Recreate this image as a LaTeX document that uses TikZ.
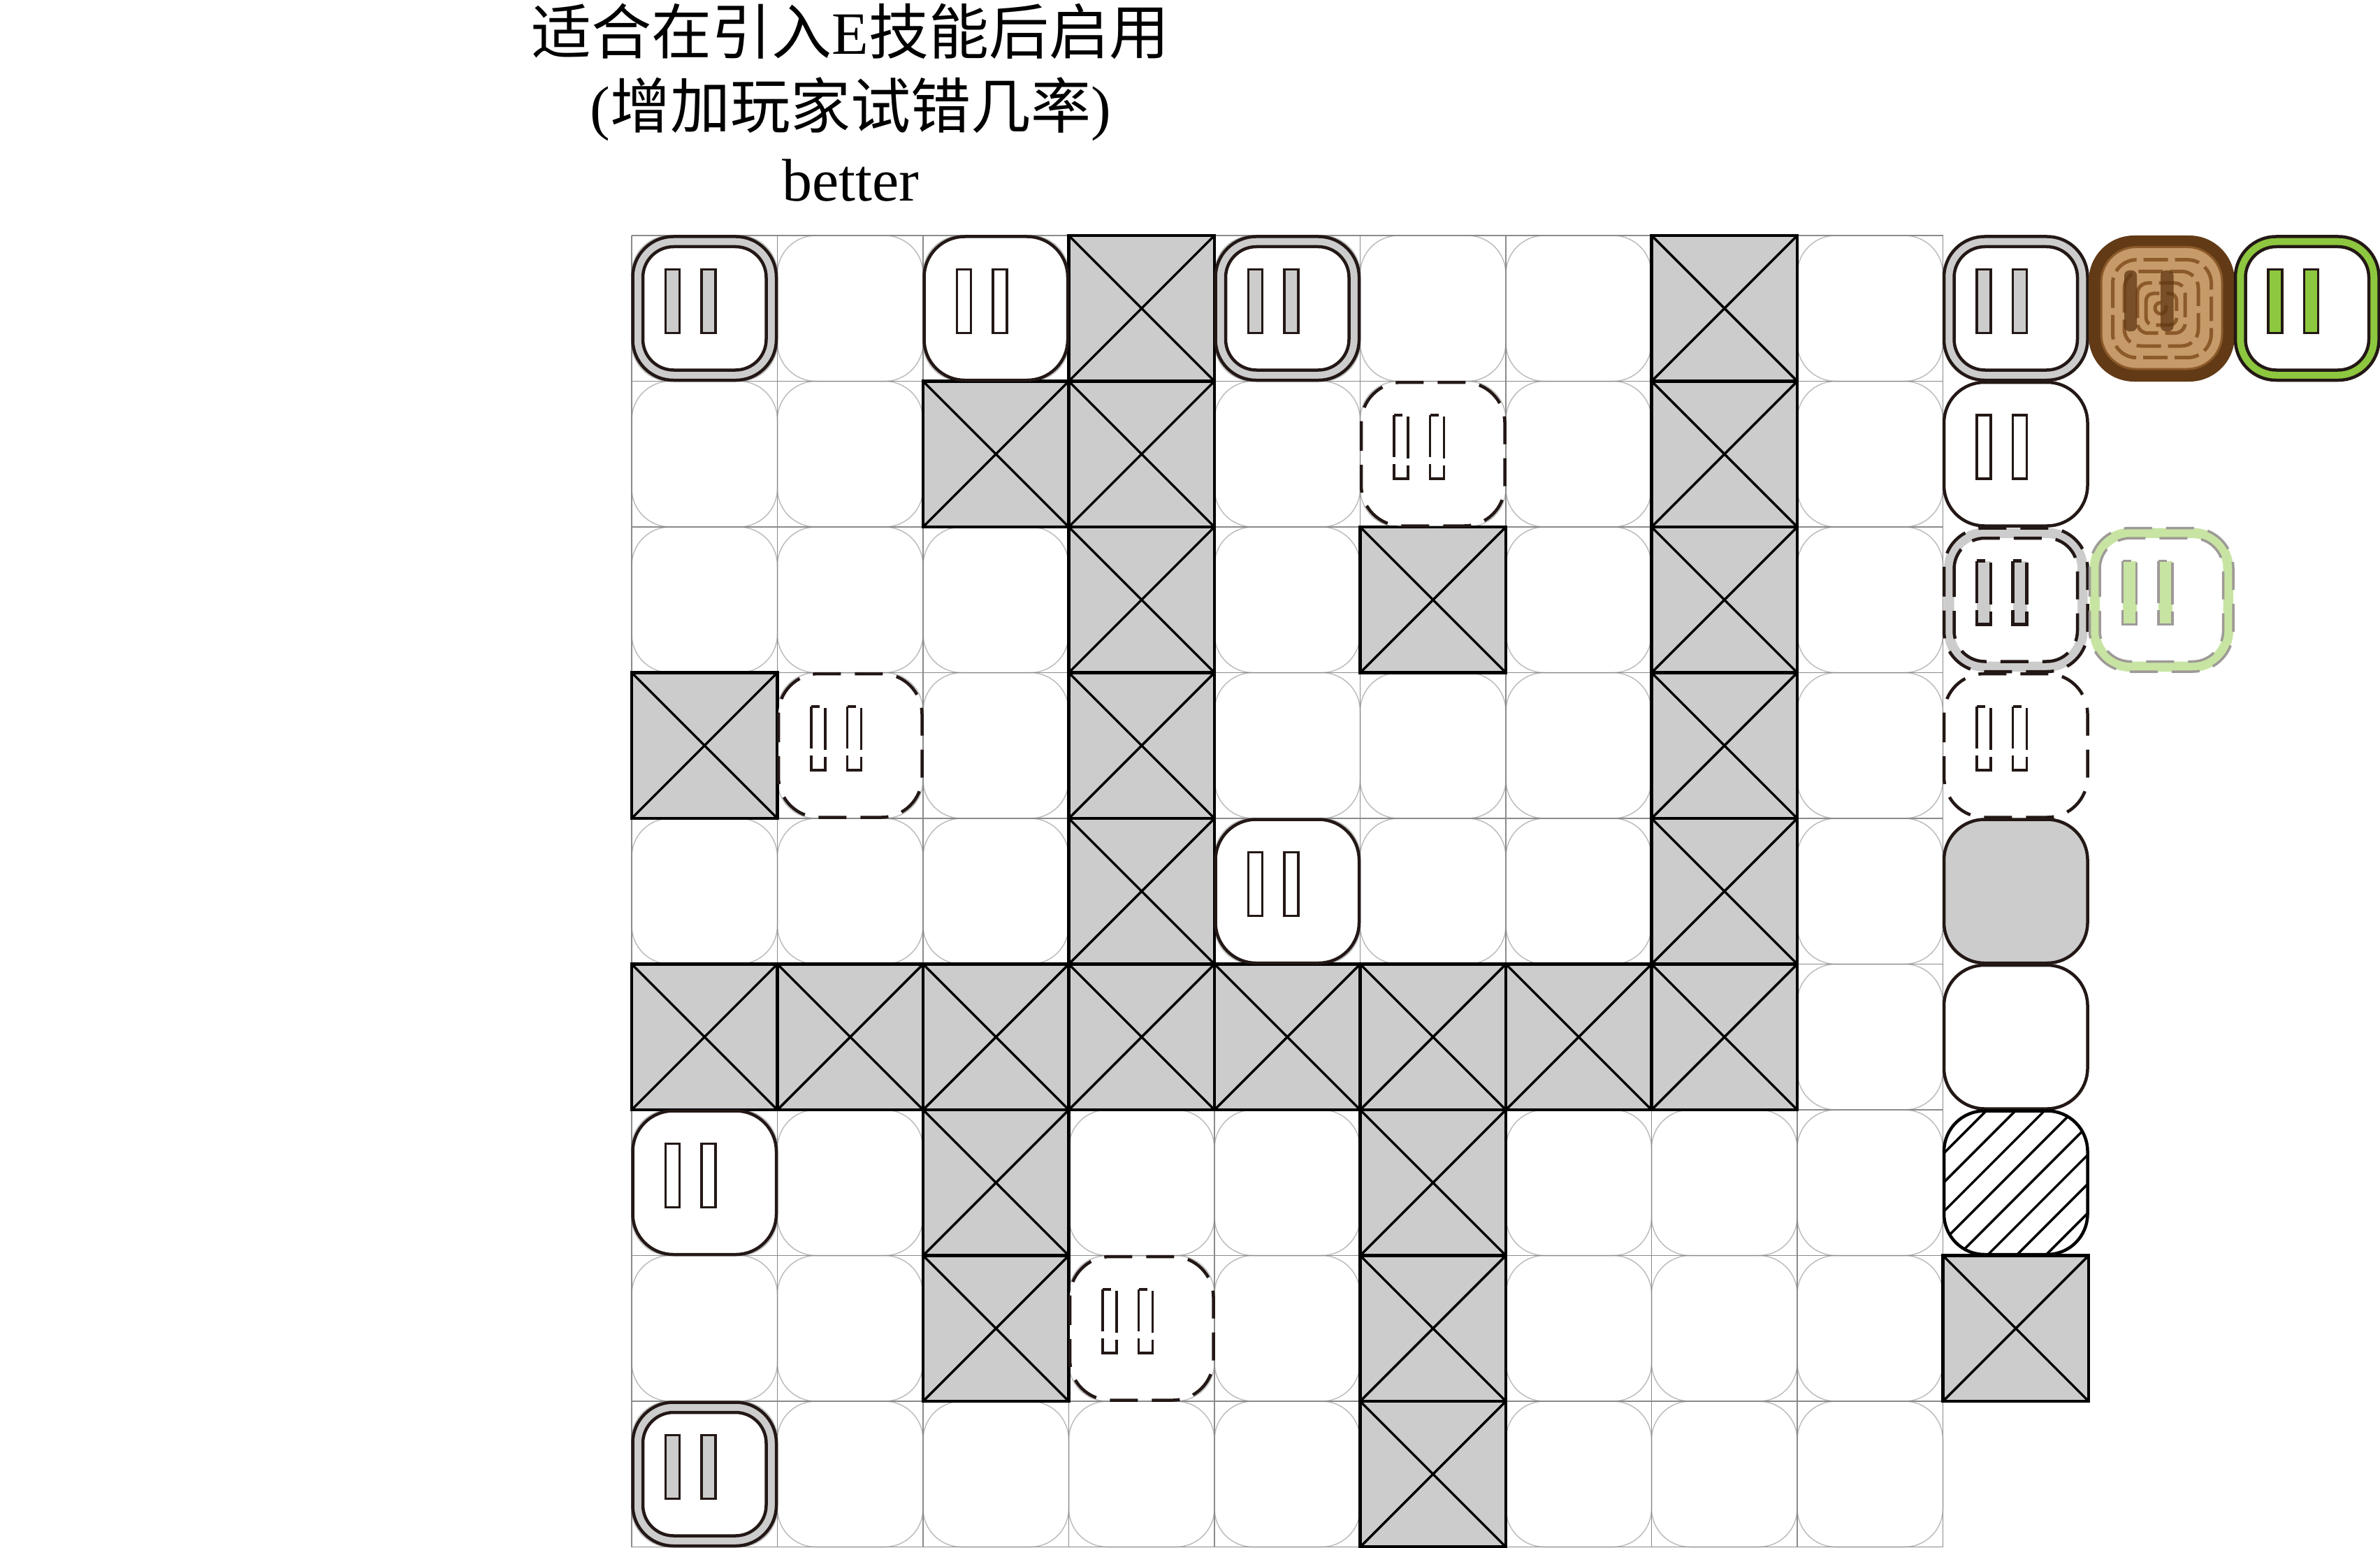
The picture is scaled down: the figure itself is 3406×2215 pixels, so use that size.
\documentclass[tikz,border=0pt]{standalone}
\usepackage{fontspec}
\setmainfont{Liberation Serif}
\newfontfamily\cjk{Noto Sans CJK SC}
\definecolor{blk}{HTML}{231815}
\definecolor{ringgray}{HTML}{CCCCCC}
\definecolor{gridc}{HTML}{8A8A8A}
\definecolor{lightc}{HTML}{BDBDBD}
\definecolor{grn}{HTML}{8DC63F}
\definecolor{lgrn}{HTML}{C8E4A3}
\definecolor{lgout}{HTML}{9E9A97}
\definecolor{wdark}{HTML}{623A16}
\definecolor{wtan}{HTML}{C69A69}
\definecolor{wmid}{HTML}{8C5A2A}
\definecolor{wbar}{HTML}{5E3713}
\tikzset{
  outerline/.style={line width=4.5pt},
  barline/.style={line width=3.5pt},
  dashln/.style={dash pattern=on 40pt off 20pt},
  bardash/.style={dash pattern=on 60pt off 10pt},
  txt/.style={anchor=base,inner sep=0pt,font=\fontsize{86}{86}\selectfont},
}
\newcommand\placecell[3]{\begin{scope}[shift={({904+208.5*#1},{337+208.5*#2})}]#3\end{scope}}
\newcommand\xbox{%
  \fill[ringgray] (0,0) rectangle (208.5,208.5);
  \draw[black,outerline] (0,0) rectangle (208.5,208.5);
  \draw[black,barline] (0,0) -- (208.5,208.5) (0,208.5) -- (208.5,0);}
\newcommand\pausebars[2]{%
  \draw[barline,fill=#1,#2] (48.5,48.5) rectangle (68.5,139.5);
  \draw[barline,fill=#1,#2] (100,48.5) rectangle (120,139.5);}
\newcommand\ringpause[1]{%
  \draw[draw=blk,outerline,fill=#1,rounded corners=58] (1.5,1.5) rectangle (207,207);
  \draw[draw=blk,outerline,fill=white,rounded corners=44] (16,16) rectangle (192.5,192.5);
  \pausebars{#1}{draw=blk}}
\newcommand\dringpause[3]{%
  \fill[#1,rounded corners=58] (1.5,1.5) rectangle (207,207);
  \fill[white,rounded corners=44] (16,16) rectangle (192.5,192.5);
  \draw[draw=#2,line width=#3,dashln,rounded corners=58] (1.5,1.5) rectangle (207,207);
  \draw[draw=#2,line width=#3,dashln,rounded corners=44] (16,16) rectangle (192.5,192.5);
  \pausebars{#1}{draw=#2,line width=#3,bardash}}
\newcommand\whitepause{%
  \draw[draw=blk,outerline,fill=white,rounded corners=58] (1.5,1.5) rectangle (207,207);
  \pausebars{white}{draw=blk}}
\newcommand\dashpause{%
  \fill[white,rounded corners=58] (1.5,1.5) rectangle (207,207);
  \draw[draw=blk,outerline,dashln,rounded corners=58] (1.5,1.5) rectangle (207,207);
  \pausebars{white}{draw=blk,bardash}}
\newcommand\woodblock{%
  \fill[wdark,rounded corners=65] (0,0) rectangle (209,209);
  \draw[draw=wmid,line width=3pt,fill=wtan,rounded corners=50] (18,16.5) rectangle (191,191);
  \begin{scope}[draw=wmid,line width=5pt,dash pattern=on 35pt off 10pt]
    \draw[rounded corners=34] (34.5,34.7) rectangle (175.5,174.7);
    \draw[rounded corners=24] (51,51.3) rectangle (157,158);
    \draw[rounded corners=15] (69.8,68) rectangle (138.2,139.7);
    \draw[rounded corners=10] (82.2,83) rectangle (125.8,128);
  \end{scope}
  \draw[draw=wmid,line width=5pt,dash pattern=on 38pt off 8pt] (103,104) circle (8);
  \fill[wbar,opacity=0.75,rounded corners=7] (51,50) rectangle (69,137);
  \fill[wbar,opacity=0.75,rounded corners=7] (103,50) rectangle (121.5,137);}
\begin{document}
\begin{tikzpicture}[x=1pt,y=-1pt]
\useasboundingbox (0,0) rectangle (3406,2215);
% title
\node[txt] (t1) at (1217,78) {{\cjk 适合在引入}E{\cjk 技能后启用}};
\node[txt] (t2) at (1217,184) {({\cjk 增加玩家试错几率})};
\node[txt] (t3) at (1217,288) {better};
% grid background rounded squares
\foreach \r in {0,...,8}{\foreach \c in {0,...,8}{%
  \placecell{\c}{\r}{\draw[lightc,line width=1.5pt,rounded corners=55] (0,0) rectangle (208.5,208.5);}}}
% grid lines
\foreach \i in {0,...,9}{%
  \draw[gridc,line width=1.7pt] ({904+208.5*\i},337) -- ({904+208.5*\i},2213.5);
  \draw[gridc,line width=1.7pt] (904,{337+208.5*\i}) -- (2780.5,{337+208.5*\i});}
% crossed boxes
\foreach \c/\r in {3/0,7/0,2/1,3/1,7/1,3/2,5/2,7/2,0/3,3/3,7/3,3/4,7/4,
  0/5,1/5,2/5,3/5,4/5,5/5,6/5,7/5,2/6,5/6,2/7,5/7,5/8,9/7}{%
  \placecell{\c}{\r}{\xbox}}
% blocks in the grid
\placecell{0}{0}{\ringpause{ringgray}}
\placecell{4}{0}{\ringpause{ringgray}}
\placecell{0}{8}{\ringpause{ringgray}}
\placecell{2}{0}{\whitepause}
\placecell{4}{4}{\whitepause}
\placecell{0}{6}{\whitepause}
\placecell{5}{1}{\dashpause}
\placecell{1}{3}{\dashpause}
\placecell{3}{7}{\dashpause}
% legend column
\placecell{9}{0}{\ringpause{ringgray}}
\placecell{10}{0}{\woodblock}
\placecell{11}{0}{\ringpause{grn}}
\placecell{9}{1}{\whitepause}
\placecell{9}{2}{\dringpause{ringgray}{blk}{4.5pt}}
\placecell{10}{2}{\dringpause{lgrn}{lgout}{3.5pt}}
\placecell{9}{3}{\dashpause}
\placecell{9}{4}{\draw[draw=blk,outerline,fill=ringgray,rounded corners=58] (1.5,1.5) rectangle (207,207);}
\placecell{9}{5}{\draw[draw=blk,outerline,fill=white,rounded corners=58] (1.5,1.5) rectangle (207,207);}
\placecell{9}{6}{%
  \fill[white,rounded corners=58] (1.5,1.5) rectangle (207,207);
  \begin{scope}
    \clip[rounded corners=58] (1.5,1.5) rectangle (207,207);
    \foreach \k in {0,...,9}{%
      \draw[black,line width=3.5pt] (-50,{21.7+41.67*\k+50}) -- ({21.7+41.67*\k+50},-50);}
  \end{scope}
  \draw[black,outerline,rounded corners=58] (1.5,1.5) rectangle (207,207);}
\end{tikzpicture}
\end{document}
